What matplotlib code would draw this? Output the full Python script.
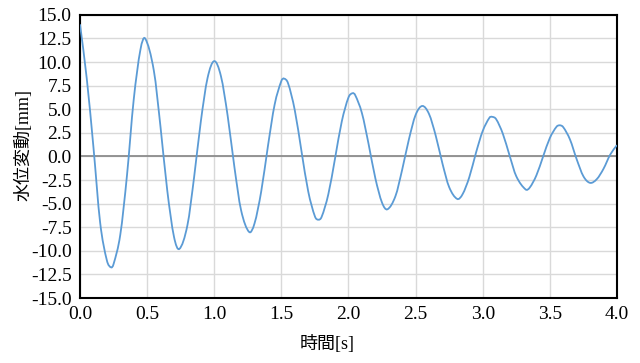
import matplotlib
matplotlib.use("Agg")
import matplotlib.pyplot as plt
from matplotlib.path import Path
from matplotlib.patches import PathPatch

# 時間[s] と 水位変動[mm]
time_s = [0.00, 0.05, 0.10, 0.15, 0.20, 0.231, 0.25, 0.30, 0.35, 0.40,
          0.45, 0.485, 0.55, 0.60, 0.65, 0.70, 0.74, 0.80, 0.85, 0.90,
          0.95, 1.00, 1.05, 1.10, 1.15, 1.20, 1.26, 1.30, 1.35, 1.40,
          1.45, 1.50, 1.52, 1.55, 1.60, 1.65, 1.70, 1.75, 1.775, 1.80,
          1.85, 1.90, 1.95, 2.00, 2.03, 2.05, 2.10, 2.15, 2.20, 2.25,
          2.29, 2.35, 2.40, 2.45, 2.50, 2.55, 2.60, 2.65, 2.70, 2.75,
          2.81, 2.85, 2.90, 2.95, 3.00, 3.05, 3.07, 3.10, 3.15, 3.20,
          3.25, 3.32, 3.35, 3.40, 3.45, 3.50, 3.55, 3.575, 3.60, 3.65,
          3.70, 3.75, 3.80, 3.85, 3.90, 3.95, 4.00]
level_mm = [14.0, 8.3, 1.0, -7.0, -11.0, -11.75, -11.4, -8.3, -2.0, 6.0,
            11.3, 12.5, 9.1, 3.1, -3.6, -8.5, -9.8, -7.3, -2.2, 3.7,
            8.3, 10.1, 8.5, 4.3, -1.1, -5.7, -8.0, -7.1, -3.7, 1.1,
            5.5, 8.0, 8.25, 7.75, 4.9, 0.55, -3.7, -6.35, -6.7, -6.4,
            -4.0, -0.2, 3.7, 6.25, 6.7, 6.5, 4.6, 1.3, -2.3, -4.9,
            -5.6, -4.2, -1.4, 1.8, 4.4, 5.35, 4.5, 2.2, -0.75, -3.25,
            -4.5, -4.0, -2.2, 0.4, 2.7, 4.1, 4.2, 3.95, 2.4, 0.1,
            -2.1, -3.5, -3.3, -2.0, 0.0, 1.95, 3.15, 3.3, 3.1, 1.8,
            -0.3, -2.1, -2.8, -2.4, -1.3, 0.2, 1.2]

x_ticks = [0.0, 0.5, 1.0, 1.5, 2.0, 2.5, 3.0, 3.5, 4.0]
y_ticks = [-15.0, -12.5, -10.0, -7.5, -5.0, -2.5, 0.0, 2.5, 5.0, 7.5, 10.0, 12.5, 15.0]

fonts = ['Liberation Serif', 'Noto Sans CJK JP', 'DejaVu Sans']
plt.rcParams['font.family'] = fonts


def smooth_line(x, y):
    # smoothed line like a spreadsheet chart: cubic Hermite segments as Bezier curves
    n = len(x)
    slopes = []
    for i in range(n):
        a = max(i - 1, 0)
        b = min(i + 1, n - 1)
        slopes.append((y[b] - y[a]) / (x[b] - x[a]))
    verts = [(x[0], y[0])]
    codes = [Path.MOVETO]
    for i in range(n - 1):
        h = x[i + 1] - x[i]
        verts.append((x[i] + h / 3, y[i] + slopes[i] * h / 3))
        verts.append((x[i + 1] - h / 3, y[i + 1] - slopes[i + 1] * h / 3))
        verts.append((x[i + 1], y[i + 1]))
        codes += [Path.CURVE4] * 3
    return Path(verts, codes)


fig = plt.figure(figsize=(6.4, 3.63), dpi=100)
ax = fig.add_axes([0.125, 0.179, 0.839, 0.780])

ax.set_xlim(0, 4)
ax.set_ylim(-15, 15)
ax.set_xticks(x_ticks)
ax.set_yticks(y_ticks)
ax.set_xticklabels([f"{v:.1f}" for v in x_ticks])
ax.set_yticklabels([f"{v:.1f}" for v in y_ticks])
ax.tick_params(length=0, labelsize=14, pad=6)

ax.grid(True, color='#d9d9d9', linewidth=1.0)
ax.set_axisbelow(True)
ax.axhline(0, color='#8c8c8c', linewidth=1.3, zorder=2)

line = PathPatch(smooth_line(time_s, level_mm), fill=False,
                 edgecolor='#5b9bd5', linewidth=1.3, zorder=3)
ax.add_patch(line)

for s in ax.spines.values():
    s.set_color('black')
    s.set_linewidth(1.5)

ax.set_xlabel('時間[s]', fontsize=13)
ax.set_ylabel('水位変動[mm]', fontsize=13)
ax.xaxis.set_label_coords(0.46, -0.13)
ax.yaxis.set_label_coords(-0.088, 0.54)

fig.savefig('out.png', dpi=100)
